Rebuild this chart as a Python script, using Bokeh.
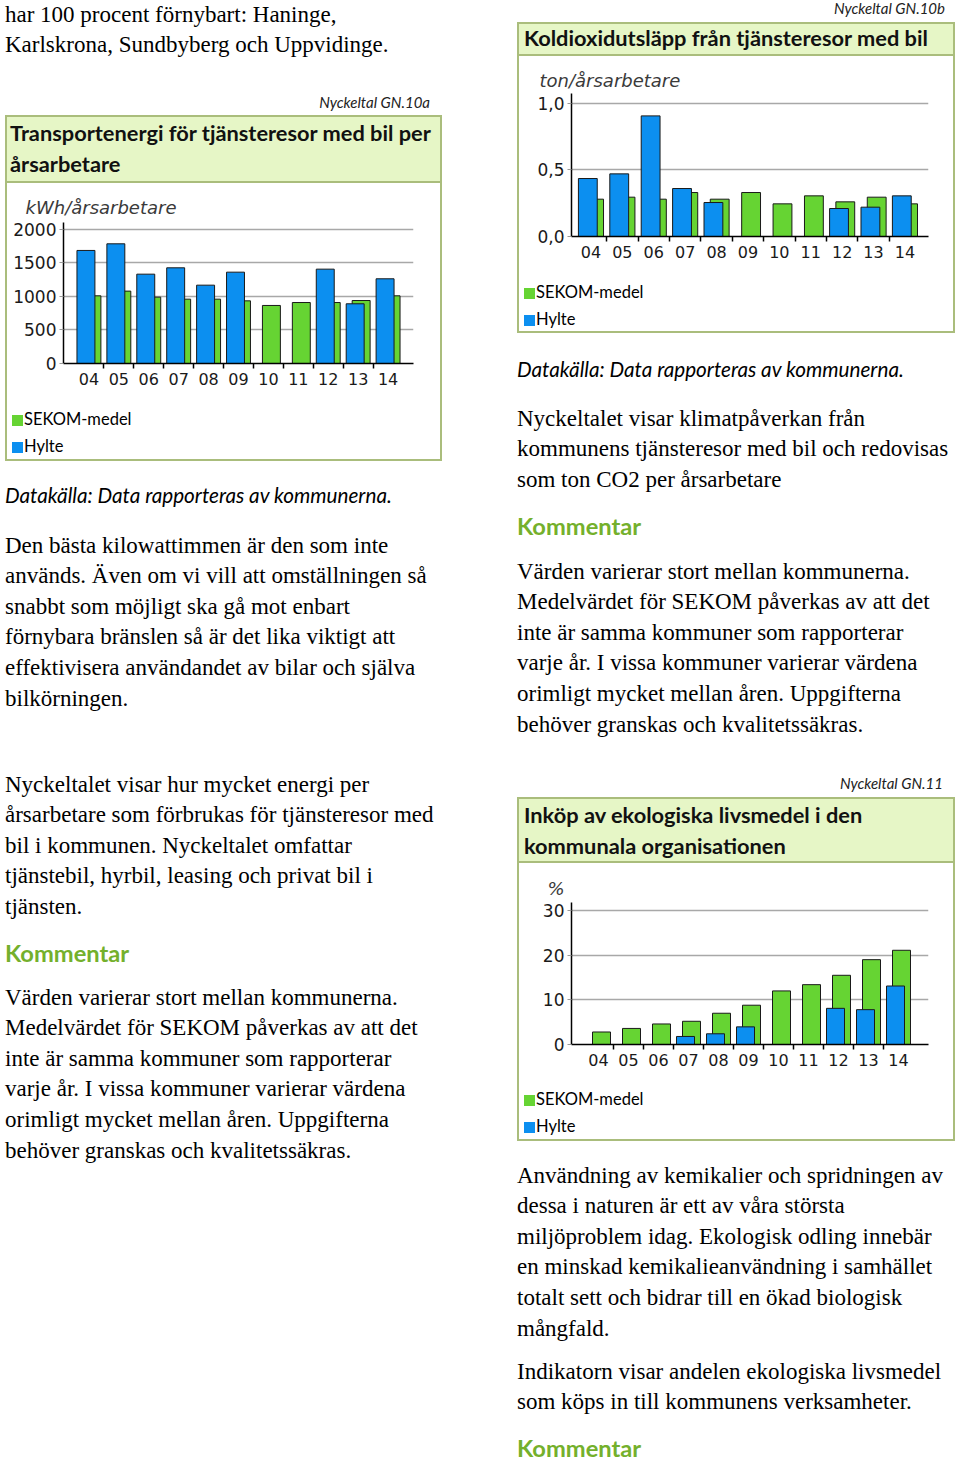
from bokeh.plotting import figure
from bokeh.models import Div, Range1d, FixedTicker, ColumnDataSource, Spacer
from bokeh.layouts import row, column
from bokeh.transform import dodge
from bokeh.embed import file_html
from bokeh.resources import INLINE

# ---------------- data ----------------
years = ["04", "05", "06", "07", "08", "09", "10", "11", "12", "13", "14"]

energy_sekom = [1010, 1080, 990, 960, 960, 935, 866, 910, 910, 940, 1010]
energy_hylte = [1687, 1786, 1333, 1428, 1169, 1363, None, None, 1408, 891, 1264]
energy_yticks = [0, 500, 1000, 1500, 2000]
energy_ylabels = ["0", "500", "1000", "1500", "2000"]

co2_sekom = [0.28, 0.295, 0.28, 0.33, 0.28, 0.33, 0.245, 0.305, 0.26, 0.295, 0.245]
co2_hylte = [0.435, 0.47, 0.905, 0.36, 0.255, None, None, None, 0.21, 0.22, 0.305]
co2_yticks = [0, 0.5, 1.0]
co2_ylabels = ["0,0", "0,5", "1,0"]

eco_sekom = [2.8, 3.6, 4.6, 5.2, 7.0, 8.8, 12.0, 13.4, 15.5, 19.0, 21.1]
eco_hylte = [None, None, None, 1.8, 2.4, 3.95, None, None, 8.1, 7.8, 13.1]
eco_yticks = [0, 10, 20, 30]
eco_ylabels = ["0", "10", "20", "30"]

series_names = ["SEKOM-medel", "Hylte"]

# ---------------- style ----------------
GREEN = "#66d433"
BLUE = "#0c8ff0"
OUTLINE = "#1a1a1a"
BORDER = "#aabd7c"
HEAD_BG = "#e6f6c6"
KOMM = "#74b02c"
SERIF = "'Liberation Serif', 'Times New Roman', serif"
SANS = "Lato, 'Open Sans', sans-serif"


def make_chart(sekom, hylte, yticks, ylabels, ymax, unit, xr, width, mbl, mbr, mbt, mbb,
               title_off, title_standoff):
    p = figure(width=width, height=212, x_range=Range1d(*xr), y_range=Range1d(0, ymax),
               output_backend="svg", toolbar_location=None,
               min_border_left=mbl, min_border_right=mbr,
               min_border_top=mbt, min_border_bottom=mbb)
    p.outline_line_color = None
    p.background_fill_color = "white"
    p.border_fill_color = "white"

    gx = [i for i, v in enumerate(sekom) if v is not None]
    gs = ColumnDataSource(dict(x=gx, y=[sekom[i] for i in gx]))
    bx = [i for i, v in enumerate(hylte) if v is not None]
    bs = ColumnDataSource(dict(x=bx, y=[hylte[i] for i in bx]))
    p.vbar(x=dodge("x", 0.1), top="y", width=0.6, source=gs,
           fill_color=GREEN, line_color=OUTLINE, line_width=1)
    p.vbar(x=dodge("x", -0.1), top="y", width=0.6, source=bs,
           fill_color=BLUE, line_color=OUTLINE, line_width=1)

    p.title.text = unit
    p.title.text_font = "DejaVu Sans"
    p.title.text_font_style = "italic"
    p.title.text_font_size = "18px"
    p.title.text_color = "#3a3a3a"
    p.title.align = "left"
    p.title.offset = title_off
    p.title.standoff = title_standoff

    xa = p.xaxis[0]
    xa.ticker = FixedTicker(ticks=list(range(len(years))),
                            minor_ticks=[i + 0.5 for i in range(len(years) - 1)])
    xa.major_label_overrides = {i: y for i, y in enumerate(years)}
    xa.major_tick_line_color = None
    xa.major_tick_out = 0
    xa.major_tick_in = 0
    xa.minor_tick_line_color = "black"
    xa.minor_tick_line_width = 1.5
    xa.minor_tick_out = 5
    xa.minor_tick_in = 0
    xa.major_label_standoff = 4
    xa.axis_line_color = "black"
    xa.axis_line_width = 1.5
    xa.major_label_text_font = "DejaVu Sans"
    xa.major_label_text_font_size = "16px"
    xa.major_label_text_color = "#1a1a1a"

    ya = p.yaxis[0]
    ya.ticker = FixedTicker(ticks=yticks, minor_ticks=[])
    ya.major_label_overrides = {t: l for t, l in zip(yticks, ylabels)}
    ya.major_tick_out = 4
    ya.major_tick_in = 0
    ya.major_tick_line_color = "#999999"
    ya.minor_tick_line_color = None
    ya.major_label_standoff = 3
    ya.axis_line_color = "black"
    ya.axis_line_width = 1.5
    ya.major_label_text_font = "DejaVu Sans"
    ya.major_label_text_font_size = "17px"
    ya.major_label_text_color = "#1a1a1a"

    p.xgrid.visible = False
    p.ygrid.ticker = FixedTicker(ticks=yticks, minor_ticks=[])
    p.ygrid.grid_line_color = "#a8a8a8"
    p.ygrid.grid_line_width = 1.5
    return p


def tdiv(html, w, h, pt, font, size, lh, color="#000", weight="normal", style="normal",
         align="left", pl=0, pr=0, extra=""):
    inner = (f'<div style="box-sizing:border-box;width:{w}px;height:{h}px;'
             f'padding:{pt}px {pr}px 0 {pl}px;font-family:{font};font-size:{size}px;'
             f'line-height:{lh}px;color:{color};font-weight:{weight};font-style:{style};'
             f'text-align:{align};white-space:nowrap;{extra}">{html}</div>')
    return Div(text=inner, width=w, height=h, margin=0)


def vbarline(h):
    return Div(text=f'<div style="width:2px;height:{h}px;background:{BORDER}"></div>',
               width=2, height=h, margin=0)


def legend_div(w, h, pt):
    sq = ('<span style="display:inline-block;width:11px;height:11px;background:{c};'
          'margin-left:5px;margin-right:1px;vertical-align:-1px"></span>')
    html = (sq.format(c=GREEN) + series_names[0] + "<br>" +
            sq.format(c=BLUE) + series_names[1])
    return tdiv(html, w, h, pt, SANS, 16.5, 27,
                extra=f"border-left:2px solid {BORDER};border-right:2px solid {BORDER};"
                      f"border-bottom:2px solid {BORDER};")


def header(html, w, h, lh, pl):
    return tdiv(html, w, h, 0, SANS, 21.8, lh, color="#111", weight="bold", pl=pl,
                extra=f"background:{HEAD_BG};border:2px solid {BORDER};")


komm_text = ("Värden varierar stort mellan kommunerna.<br>"
             "Medelvärdet för SEKOM påverkas av att det<br>"
             "inte är samma kommuner som rapporterar<br>"
             "varje år. I vissa kommuner varierar värdena<br>"
             "orimligt mycket mellan åren. Uppgifterna<br>"
             "behöver granskas och kvalitetssäkras.")

LW = 437
RW = 438
BODY = 23.0
DATA_FS = 20.7
KOMM_FS = 23.7

# ---------------- left column ----------------
p1 = make_chart(energy_sekom, energy_hylte, energy_yticks, energy_ylabels, 2104,
                "kWh/årsarbetare", (-0.85, 10.85), LW - 4, 56, 27, 39, 32, -38, 9)
left = column(
    tdiv("har 100 procent förnybart: Haninge,<br>Karlskrona, Sundbyberg och Uppvidinge.",
         LW, 62, 0, SERIF, BODY, 30),
    tdiv("Nyckeltal GN.10a", LW, 53, 30, SANS, 15, 20, color="#222", style="italic",
         align="right", pr=12),
    header("Transportenergi för tjänsteresor med bil per<br>årsarbetare", LW, 68, 31, 3),
    row(vbarline(212), p1, vbarline(212)),
    legend_div(LW, 66, 10.5),
    tdiv("Datakälla: Data rapporteras av kommunerna.", LW, 59, 22, SANS, DATA_FS, 24,
         style="italic"),
    tdiv("Den bästa kilowattimmen är den som inte<br>"
         "används. Även om vi vill att omställningen så<br>"
         "snabbt som möjligt ska gå mot enbart<br>"
         "förnybara bränslen så är det lika viktigt att<br>"
         "effektivisera användandet av bilar och själva<br>"
         "bilkörningen.", LW, 200, 10.7, SERIF, BODY, 30.6),
    tdiv("Nyckeltalet visar hur mycket energi per<br>"
         "årsarbetare som förbrukas för tjänsteresor med<br>"
         "bil i kommunen. Nyckeltalet omfattar<br>"
         "tjänstebil, hyrbil, leasing och privat bil i<br>"
         "tjänsten.", LW, 205, 49.7, SERIF, BODY, 30.6),
    tdiv("Kommentar", LW, 50, 15, SANS, KOMM_FS, 26, color=KOMM, weight="bold"),
    tdiv(komm_text, LW, 195, 7.7, SERIF, BODY, 30.6),
)

# ---------------- right column ----------------
p2 = make_chart(co2_sekom, co2_hylte, co2_yticks, co2_ylabels, 1.073,
                "ton/årsarbetare", (-0.62, 10.75), RW - 4, 52, 25, 37, 32, -32, 6)
p3 = make_chart(eco_sekom, eco_hylte, eco_yticks, eco_ylabels, 31.8,
                "%", (-0.9, 11.0), RW - 4, 52, 25, 39, 31, -24, 8)
right = column(
    tdiv("Nyckeltal GN.10b", RW, 22, 0, SANS, 15, 16, color="#222", style="italic",
         align="right", pr=10),
    header("Koldioxidutsläpp från tjänsteresor med bil", RW, 34, 28, 5),
    row(vbarline(212), p2, vbarline(212)),
    legend_div(RW, 65, 10.5),
    tdiv("Datakälla: Data rapporteras av kommunerna.", RW, 62, 24, SANS, DATA_FS, 24,
         style="italic"),
    tdiv("Nyckeltalet visar klimatpåverkan från<br>"
         "kommunens tjänsteresor med bil och redovisas<br>"
         "som ton CO2 per årsarbetare", RW, 105, 8.7, SERIF, BODY, 30.6),
    tdiv("Kommentar", RW, 50, 13, SANS, KOMM_FS, 26, color=KOMM, weight="bold"),
    tdiv(komm_text, RW, 195, 6.7, SERIF, BODY, 30.6),
    tdiv("Nyckeltal GN.11", RW, 52, 29, SANS, 15, 18, color="#222", style="italic",
         align="right", pr=12),
    header("Inköp av ekologiska livsmedel i den<br>kommunala organisationen", RW, 66, 31, 5),
    row(vbarline(212), p3, vbarline(212)),
    legend_div(RW, 66, 10.5),
    tdiv("Användning av kemikalier och spridningen av<br>"
         "dessa i naturen är ett av våra största<br>"
         "miljöproblem idag. Ekologisk odling innebär<br>"
         "en minskad kemikalieanvändning i samhället<br>"
         "totalt sett och bidrar till en ökad biologisk<br>"
         "mångfald.", RW, 204, 19.7, SERIF, BODY, 30.6),
    tdiv("Indikatorn visar andelen ekologiska livsmedel<br>"
         "som köps in till kommunens verksamheter.", RW, 75, 11.7, SERIF, BODY, 30.6),
    tdiv("Kommentar", RW, 35, 21, SANS, KOMM_FS, 14, color=KOMM, weight="bold"),
)

root = row(left, Spacer(width=75, height=10), right,
           styles={"margin-top": "0px", "margin-left": "5px"})

open("out.html", "w").write(file_html(root, INLINE))
